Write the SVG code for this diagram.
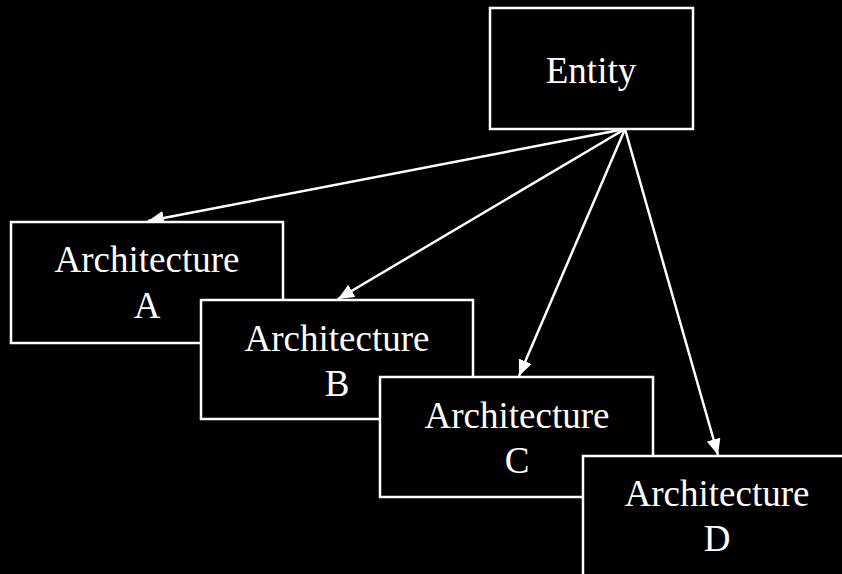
<svg xmlns="http://www.w3.org/2000/svg" width="842" height="574" viewBox="0 0 842 574">
  <style>
    .box { fill: #000; stroke: #fff; stroke-width: 2.5; }
    .label { font-family: 'Liberation Serif', 'Times New Roman', Times, 'DejaVu Serif', serif; font-size: 37px; fill: #fff; text-anchor: middle; }
    .edge { stroke: #fff; stroke-width: 2.5; fill: none; marker-end: url(#arrow); }
  </style>
  <defs>
    <marker id="arrow" markerUnits="userSpaceOnUse" markerWidth="18" markerHeight="14" refX="16" refY="7" orient="auto">
      <path d="M0,0 L16,7 L0,14 Z" fill="#fff"/>
    </marker>
  </defs>
  <rect x="0" y="0" width="842" height="574" fill="#000"/>

  <g id="connectors">
    <line class="edge" x1="625" y1="129" x2="148" y2="221"/>
    <line class="edge" x1="625" y1="129" x2="338" y2="299"/>
    <line class="edge" x1="625" y1="129" x2="519" y2="376"/>
    <line class="edge" x1="625" y1="129" x2="718" y2="455"/>
  </g>

  <g id="entity">
    <rect class="box" x="490" y="8" width="203" height="121"/>
    <text class="label" x="591" y="83">Entity</text>
  </g>

  <g id="arch-a">
    <rect class="box" x="11" y="222" width="272" height="121"/>
    <text class="label" x="147" y="272">Architecture</text>
    <text class="label" x="147" y="318">A</text>
  </g>

  <g id="arch-b">
    <rect class="box" x="201" y="300" width="272" height="119"/>
    <text class="label" x="337" y="351">Architecture</text>
    <text class="label" x="337" y="396">B</text>
  </g>

  <g id="arch-c">
    <rect class="box" x="380" y="377" width="273" height="120"/>
    <text class="label" x="517" y="428">Architecture</text>
    <text class="label" x="517" y="473">C</text>
  </g>

  <g id="arch-d">
    <rect class="box" x="583" y="456" width="275" height="130"/>
    <text class="label" x="717" y="506">Architecture</text>
    <text class="label" x="717" y="551">D</text>
  </g>
</svg>
